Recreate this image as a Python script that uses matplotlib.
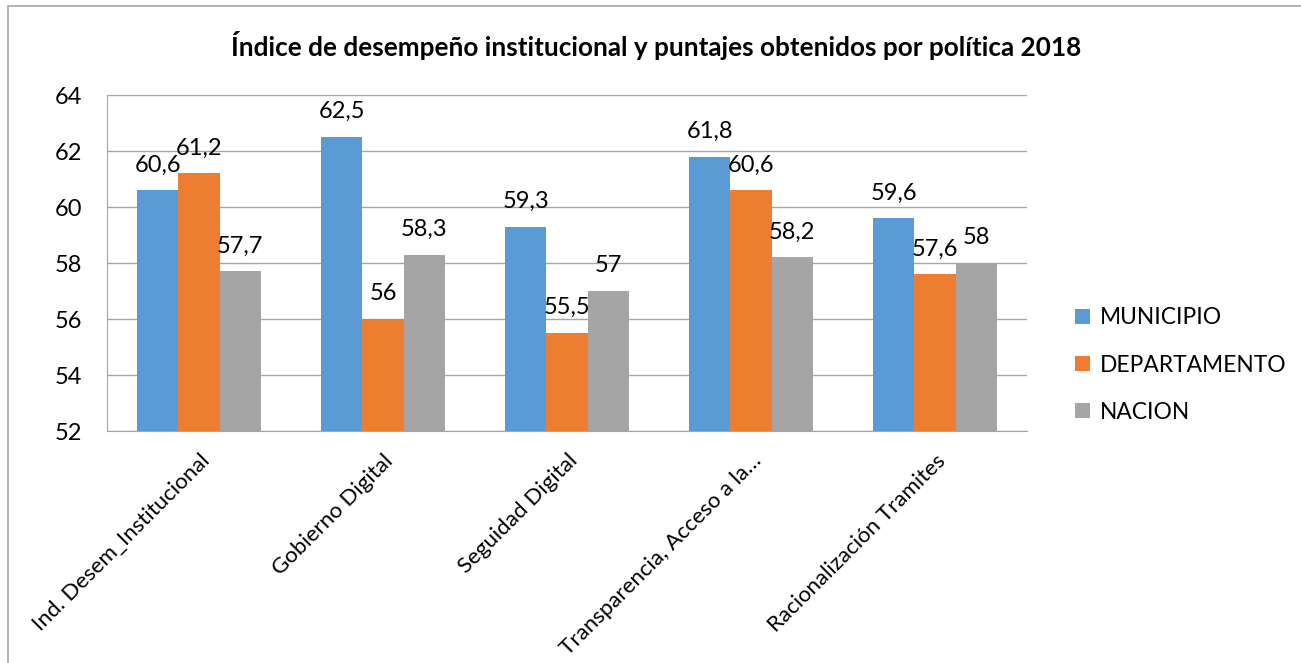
import numpy as np
import matplotlib
matplotlib.use('Agg')
import matplotlib.pyplot as plt
from matplotlib.patches import Rectangle

# data
categories = ['Ind. Desem_Institucional', 'Gobierno Digital', 'Seguidad Digital',
              'Transparencia, Acceso a la…', 'Racionalización Tramites']
municipio = [60.6, 62.5, 59.3, 61.8, 59.6]
departamento = [61.2, 56.0, 55.5, 60.6, 57.6]
nacion = [57.7, 58.3, 57.0, 58.2, 58.0]
series_names = ['MUNICIPIO', 'DEPARTAMENTO', 'NACION']
colors = ['#5B9BD5', '#ED7D31', '#A5A5A5']
y_ticks = [52, 54, 56, 58, 60, 62, 64]

plt.rcParams['font.family'] = ['Lato', 'DejaVu Sans']

fig = plt.figure(figsize=(13.01, 6.63), dpi=100)
ax = fig.add_axes([107 / 1301, 1 - 431 / 663, 920 / 1301, 336 / 663])

# outer frame of the chart area
fig.patches.append(Rectangle((8 / 1301, -0.05), 1.1, 1 - 6 / 663 + 0.05,
                             transform=fig.transFigure, fill=False,
                             edgecolor='#A6A6A6', linewidth=1.2))

x = np.arange(len(categories))
w = 0.223
for k, vals in enumerate([municipio, departamento, nacion]):
    pos = x + (k - 1) * w
    ax.bar(pos, np.array(vals) - 52, bottom=52, width=w,
           color=colors[k], label=series_names[k], zorder=3)
    for p, v in zip(pos, vals):
        txt = f'{v:g}'.replace('.', ',')
        ax.annotate(txt, (p, v), xytext=(0, 13.5), textcoords='offset points',
                    ha='center', va='baseline', fontsize=17, zorder=4)

ax.set_xlim(-0.5, len(categories) - 0.5)
ax.set_ylim(52, 64)
ax.set_yticks(y_ticks)
ax.yaxis.grid(True, color='#A6A6A6', linewidth=1.0, zorder=0)
ax.set_axisbelow(True)
ax.tick_params(axis='y', length=0, labelsize=17, pad=18)
ax.tick_params(axis='x', length=0, labelsize=16, pad=14)
ax.set_xticks(x)
ax.set_xticklabels(categories, rotation=45, ha='right', va='top', rotation_mode='anchor')
for s in ['top', 'right']:
    ax.spines[s].set_visible(False)
ax.spines['left'].set_color('#A6A6A6')
ax.spines['bottom'].set_color('#A6A6A6')

fig.text(0.5 + 6 / 1301, 1 - 45 / 663, 'Índice de desempeño institucional y puntajes obtenidos por política 2018',
         ha='center', va='center', fontsize=18.8, fontweight='bold')

ax.legend(loc='center left', bbox_to_anchor=(1.03, 0.196), frameon=False,
          fontsize=16.4, handlelength=0.65, handleheight=0.65, labelspacing=1.15,
          handletextpad=0.45)

fig.savefig('out.png', dpi=100)
